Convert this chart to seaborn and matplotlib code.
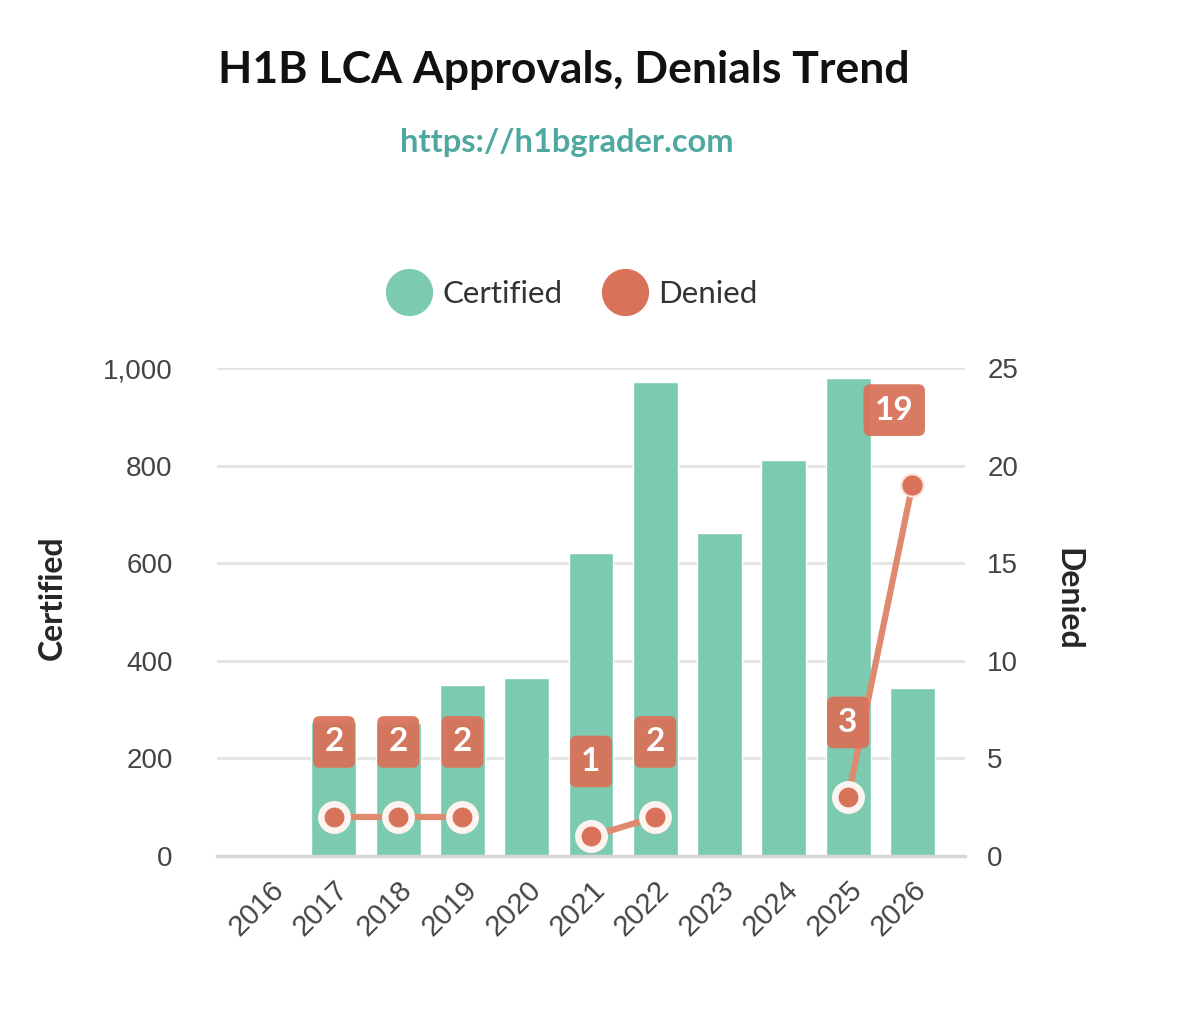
import matplotlib
matplotlib.use("Agg")
import numpy as np
import pandas as pd
import seaborn as sns
import matplotlib.pyplot as plt
from matplotlib.lines import Line2D

# values
years = ["2016", "2017", "2018", "2019", "2020", "2021", "2022", "2023", "2024", "2025", "2026"]
certified = [0, 275, 272, 350, 365, 621, 971, 662, 811, 980, 344]
denied = [np.nan, 2, 2, 2, np.nan, 1, 2, np.nan, np.nan, 3, 19]

green = "#7ccbb0"
orange = "#d8735a"
line_orange = "#df8a6f"
tick_gray = "#444444"

sns.set_style("white")
plt.rcParams['font.family'] = ['Lato', 'DejaVu Sans']

df = pd.DataFrame({"year": years, "certified": certified, "denied": denied})

fig = plt.figure(figsize=(12, 10.13), dpi=100)
ax = fig.add_axes([217 / 1200, 157 / 1013, 748 / 1200, 488 / 1013])

sns.barplot(data=df, x="year", y="certified", color=green, saturation=1,
            width=0.7, ax=ax, zorder=2)
ax.set_xlim(-0.82, 10.82)
ax.set_ylim(0, 1000)
ax.set_yticks([0, 200, 400, 600, 800, 1000])
ax.set_yticklabels(["0", "200", "400", "600", "800", "1,000"],
                   family="Liberation Sans", fontsize=20, color=tick_gray)
ax.grid(axis="y", color="#e3e3e3", linewidth=2)
ax.set_axisbelow(True)
for s in ["top", "right", "left"]:
    ax.spines[s].set_visible(False)
ax.spines["bottom"].set_color("#d6d6d6")
ax.spines["bottom"].set_linewidth(2.5)
ax.tick_params(axis="y", length=0, pad=32)
ax.tick_params(axis="x", length=10, width=1.5, color="#d6d6d6", pad=4)
plt.setp(ax.get_xticklabels(), rotation=45, ha="right", rotation_mode="anchor",
         family="Liberation Sans", fontsize=21, color=tick_gray)
ax.set_xlabel("")
ax.set_ylabel("Certified", fontsize=23, fontweight="bold", va="center")
ax.yaxis.set_label_coords(-0.2206, 0.529)

ax2 = ax.twinx()
ax2.set_ylim(0, 25)
ax2.set_yticks([0, 5, 10, 15, 20, 25])
ax2.set_yticklabels(["0", "5", "10", "15", "20", "25"],
                    family="Liberation Sans", fontsize=20, color=tick_gray)
ax2.tick_params(axis="y", length=0, pad=16)
for s in ax2.spines.values():
    s.set_visible(False)
ax2.set_ylabel("Denied", fontsize=23, fontweight="bold", rotation=270, va="center")
ax2.yaxis.set_label_coords(1.138, 0.525)

x = np.arange(len(years))
d = np.array(denied, dtype=float)
ax2.plot(x, d, color=line_orange, linewidth=4.5, zorder=3, solid_capstyle="butt")
ax2.plot(x[:-1], d[:-1], linestyle="none", marker="o", markersize=19,
         markerfacecolor=orange, markeredgecolor="#fdf3f0", markeredgewidth=4.7, zorder=4)
ax2.plot(x[-1:], d[-1:], linestyle="none", marker="o", markersize=16,
         markerfacecolor=orange, markeredgecolor="#fbe3dc", markeredgewidth=1.5, zorder=4)

for i, v in enumerate(denied):
    if np.isnan(v):
        continue
    dx = -13 if i == len(denied) - 1 else 0
    ax2.annotate(str(int(v)), (i, v), xytext=(dx, 54), textcoords="offset points",
                 ha="center", va="center", fontsize=24, fontweight="bold", color="white",
                 bbox=dict(boxstyle="round,pad=0.34,rounding_size=0.2", fc=orange,
                           ec="none", alpha=0.95), zorder=5)

fig.text(0.47, 0.931, "H1B LCA Approvals, Denials Trend", ha="center", va="center",
         fontsize=32, fontweight="bold", color="#111111")
fig.text(0.472, 0.859, "https://h1bgrader.com", ha="center", va="center",
         fontsize=23.5, fontweight="bold", color="#4ea8a0")

handles = [Line2D([], [], linestyle="none", marker="o", markersize=33,
                  markerfacecolor=green, markeredgecolor=green),
           Line2D([], [], linestyle="none", marker="o", markersize=33,
                  markerfacecolor=orange, markeredgecolor=orange)]
fig.legend(handles, ["Certified", "Denied"], loc="center", bbox_to_anchor=(0.473, 0.71),
           ncol=2, frameon=False, fontsize=22.5, handletextpad=0.05, columnspacing=1.0,
           labelcolor="#333333")

fig.savefig("out.png", dpi=100)
